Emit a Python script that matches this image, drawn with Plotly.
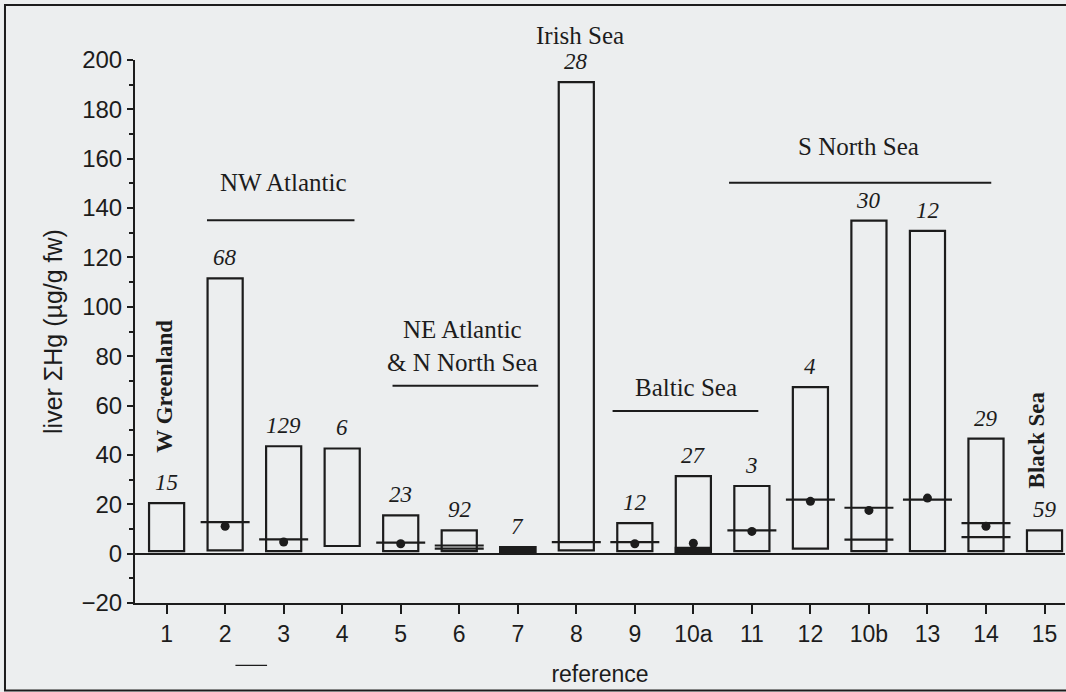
import plotly.graph_objects as go

# ---------------- data ----------------
categories = ["1", "2", "3", "4", "5", "6", "7", "8", "9", "10a", "11", "12", "10b", "13", "14", "15"]
n_samples = [15, 68, 129, 6, 23, 92, 7, 28, 12, 27, 3, 4, 30, 12, 29, 59]
range_min = [1.0, 1.3, 1.0, 3.1, 1.0, 1.0, 0.3, 1.3, 1.0, 0.5, 1.0, 2.0, 1.0, 1.0, 1.0, 1.0]
range_max = [20.5, 111.5, 43.5, 42.6, 15.5, 9.4, 2.6, 191.0, 12.4, 31.4, 27.4, 67.5, 134.9, 130.8, 46.6, 9.4]
median_line = [None, 12.8, 5.8, None, 4.5, 3.3, None, 4.7, 4.7, None, 9.4, 21.9, 18.6, 21.9, 12.4, None]
second_line = [None, None, None, None, None, 2.0, None, None, None, None, None, None, 5.7, None, 6.7, None]
mean_dot = [None, 11.1, 4.7, None, 4.0, None, None, None, 4.0, 4.2, 9.0, 21.2, 17.5, 22.5, 11.1, None]
# top of the dense (solid black) band at the bottom of a box, where data cluster near the minimum
dense_band_top = [None, None, None, None, None, None, 2.6, None, None, 2.3, None, None, None, None, None, None]

y_ticks = [-20, 0, 20, 40, 60, 80, 100, 120, 140, 160, 180, 200]
y_range = [-20, 200]

# region labels with the horizontal rule under them (x in category index units)
region_names = ["NW Atlantic", "NE Atlantic<br>& N North Sea", "Baltic Sea", "S North Sea"]
region_text_x = [2.0, 5.06, 8.88, 11.82]
region_text_y = [150.5, 84.0, 67.5, 165.0]
region_line_x0 = [0.69, 3.86, 7.62, 9.61]
region_line_x1 = [3.21, 6.35, 10.11, 14.09]
region_line_y = [135.1, 68.0, 57.8, 150.3]

irish_label = ("Irish Sea", 7.07, 210.0)
vertical_labels = ["W Greenland", "Black Sea"]
vertical_x = [-0.03, 14.86]
vertical_y = [68.0, 46.0]

# ---------------- figure ----------------
ink = "#1c1c1c"
paper = "#eceeef"
positions = list(range(len(categories)))

fig = go.Figure()

fig.add_trace(go.Bar(
    x=positions,
    y=[mx - mn for mn, mx in zip(range_min, range_max)],
    base=range_min,
    width=0.6,
    marker=dict(color=paper, line=dict(color=ink, width=2.2)),
    hoverinfo="skip",
    showlegend=False,
))

band_x = [p for p, t in zip(positions, dense_band_top) if t is not None]
band_base = [mn for mn, t in zip(range_min, dense_band_top) if t is not None]
band_h = [t - mn for mn, t in zip(range_min, dense_band_top) if t is not None]
fig.add_trace(go.Bar(
    x=band_x, y=band_h, base=band_base, width=0.6,
    marker=dict(color=ink, line=dict(color=ink, width=2.2)),
    hoverinfo="skip", showlegend=False,
))

def line_marks(values):
    xs = [p for p, v in zip(positions, values) if v is not None]
    ys = [v for v in values if v is not None]
    return xs, ys

xs, ys = line_marks(median_line)
fig.add_trace(go.Scatter(x=xs, y=ys, mode="markers", showlegend=False,
                         marker=dict(symbol="line-ew", size=35, line=dict(color=ink, width=2.2))))
xs, ys = line_marks(second_line)
fig.add_trace(go.Scatter(x=xs, y=ys, mode="markers", showlegend=False,
                         marker=dict(symbol="line-ew", size=35, line=dict(color=ink, width=2.2))))
xs, ys = line_marks(mean_dot)
fig.add_trace(go.Scatter(x=xs, y=ys, mode="markers", showlegend=False,
                         marker=dict(symbol="circle", size=9, color=ink)))

annotations = []
for p, n, mx in zip(positions, n_samples, range_max):
    annotations.append(dict(x=p, y=mx, text="<i>%d</i>" % n, showarrow=False, xref="x", yref="y",
                            yanchor="bottom", yshift=6,
                            font=dict(family="Liberation Serif", size=23, color=ink)))

for name, tx, ty in zip(region_names, region_text_x, region_text_y):
    annotations.append(dict(x=tx, y=ty, text=name, showarrow=False, xref="x", yref="y",
                            font=dict(family="Liberation Serif", size=25, color=ink)))
# Irish Sea label sits above the top of the axis -> place in paper units derived from the axis range
irish_paper_y = (irish_label[2] - y_range[0]) / (y_range[1] - y_range[0])
annotations.append(dict(x=irish_label[1], y=irish_paper_y, text=irish_label[0], showarrow=False,
                        xref="x", yref="paper", yanchor="middle",
                        font=dict(family="Liberation Serif", size=25, color=ink)))
for name, vx, vy in zip(vertical_labels, vertical_x, vertical_y):
    annotations.append(dict(x=vx, y=vy, text="<b>%s</b>" % name, showarrow=False, xref="x", yref="y",
                            textangle=-90, font=dict(family="Liberation Serif", size=23, color=ink)))

shapes = []
for x0, x1, ly in zip(region_line_x0, region_line_x1, region_line_y):
    shapes.append(dict(type="line", xref="x", yref="y", x0=x0, x1=x1, y0=ly, y1=ly,
                       line=dict(color=ink, width=2)))
# outer frame of the scanned figure
shapes.append(dict(type="rect", xref="paper", yref="paper", x0=-0.1398, x1=1.006, y0=-0.161, y1=1.1014,
                   line=dict(color=ink, width=2)))
# small stray dash below the axis
shapes.append(dict(type="line", xref="paper", yref="paper", x0=0.108, x1=0.142, y0=-0.115, y1=-0.115,
                   line=dict(color=ink, width=1.2)))

fig.update_layout(
    width=1066, height=692,
    margin=dict(l=135, r=1, t=60, b=89),
    paper_bgcolor=paper, plot_bgcolor=paper,
    font=dict(family="Liberation Sans", size=22, color=ink),
    barmode="overlay",
    annotations=annotations,
    shapes=shapes,
)

fig.update_xaxes(
    range=[-0.54, 15.35],
    tickvals=positions, ticktext=categories,
    showline=True, linecolor=ink, linewidth=2,
    ticks="outside", ticklen=9, tickwidth=2, tickcolor=ink,
    showgrid=False, zeroline=False,
    tickfont=dict(family="Liberation Sans", size=23, color=ink),
    title=dict(text="reference", standoff=20, font=dict(family="Liberation Sans", size=23, color=ink)),
)
fig.update_yaxes(
    range=y_range,
    tickvals=y_ticks,
    showline=True, linecolor=ink, linewidth=2,
    ticks="outside", ticklen=6, tickwidth=2, tickcolor=ink,
    minor=dict(dtick=10, tick0=0, ticks="outside", ticklen=4, tickwidth=1.5, tickcolor=ink),
    showgrid=False,
    zeroline=True, zerolinecolor=ink, zerolinewidth=1.5,
    tickfont=dict(family="Liberation Sans", size=24, color=ink),
    title=dict(text="liver ΣHg (µg/g fw)", standoff=12, font=dict(family="Liberation Sans", size=25, color=ink)),
)

fig.write_html(
    "out.html",
    config={"displayModeBar": False},
    post_script="document.body.style.margin='0';document.body.style.overflow='hidden';",
)
